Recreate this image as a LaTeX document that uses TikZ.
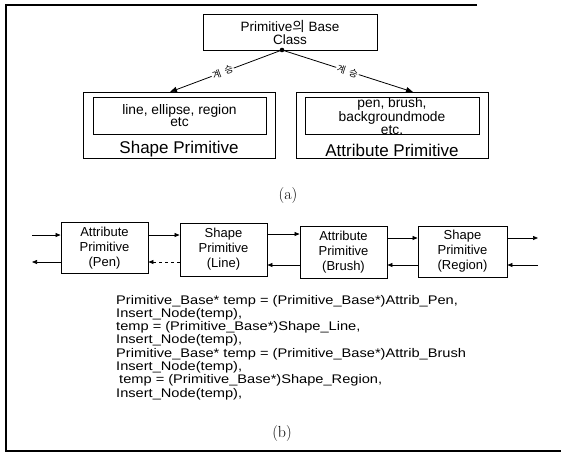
\documentclass[tikz,border=0pt]{standalone}
\usepackage{fontspec}
\usetikzlibrary{arrows.meta,calc}
\newfontfamily\arial{Liberation Sans}
\newfontfamily\codefont[FakeStretch=1.17]{Liberation Sans}
\newfontfamily\kr{Noto Sans CJK KR}
\tikzset{
  box/.style={draw, line width=0.9pt, inner sep=0pt},
  frameline/.style={line width=1.1pt},
  arr/.style={-{Triangle[length=5pt,width=4pt]}, line width=0.7pt},
  bigarr/.style={-{Triangle[length=7pt,width=5.5pt]}, line width=0.8pt},
  kor/.style={font=\kr\fontsize{9.5}{10}\selectfont, fill=white, inner sep=1pt, sloped},
  boxtext/.style={font=\arial\fontsize{13}{15}\selectfont, align=center},
  codeline/.style={font=\codefont\fontsize{12.5}{13}\selectfont, anchor=base west, inner sep=0pt},
  bnode/.style={box, boxtext, minimum width=87pt, minimum height=51pt}
}
\begin{document}
\begin{tikzpicture}[x=1pt,y=-1pt]
\useasboundingbox (0,0) rectangle (561,453);
% scanned frame
\draw[frameline] (477,5) -- (6,5) -- (6,451) -- (561,451);

% ---------- (a) ----------
\node[box, minimum width=174pt, minimum height=36pt, align=center,
      font=\arial\fontsize{13.5}{13}\selectfont] (base) at (290,32)
      {Primitive{\kr 의} Base\\Class};
\coordinate (dot) at (282,50);
\fill (dot) circle (2.3pt);

\node[box, minimum width=192pt, minimum height=66pt] (so) at (179,125) {};
\node[box, minimum width=173pt, minimum height=37pt, align=center,
      font=\arial\fontsize{13.8}{11.5}\selectfont] (si) at (179.5,115.5)
      {line, ellipse, region\\etc};
\node[font=\arial\fontsize{17}{18}\selectfont, inner sep=0pt] (sl) at (179,149) {Shape Primitive};

\node[box, minimum width=192pt, minimum height=66pt] (ao) at (392,125) {};
\node[box, minimum width=174pt, minimum height=36pt, align=center,
      font=\arial\fontsize{13.8}{11.5}\selectfont] (ai) at (392,116)
      {pen, brush,\\backgroundmode\\etc.};
\node[font=\arial\fontsize{17}{18}\selectfont, inner sep=0pt] (al) at (392,150) {Attribute Primitive};

\coordinate (stip) at (170,92);
\coordinate (atip) at (413,92);
\draw[bigarr] (dot) -- node[kor, pos=0.53] (k1) {계\hspace{4pt}승} (stip);
\draw[bigarr] (dot) -- node[kor, pos=0.5] (k2) {계\hspace{4pt}승} (atip);

\node[font=\fontsize{16}{18}\selectfont, inner sep=0pt] (capa) at (288,196) {(a)};

% ---------- (b) ----------
\node[bnode] (B1) at (104.5,248) {Attribute\\Primitive\\(Pen)};
\node[bnode, minimum height=53pt] (B2) at (223.5,249.5) {Shape\\Primitive\\(Line)};
\node[bnode, minimum height=52pt] (B3) at (343.5,252) {Attribute\\Primitive\\(Brush)};
\node[bnode, minimum width=89pt] (B4) at (462.5,251.5) {Shape\\Primitive\\(Region)};

\coordinate (inL) at (32,235);
\coordinate (outL) at (32,262);
\coordinate (outR) at (538,238);
\coordinate (inR) at (538,265);

\draw[arr] (inL) -- (B1.west |- inL);
\draw[arr] (B1.east |- 0,235) -- (B2.west |- 0,235);
\draw[arr] (B2.east |- 0,234) -- (B3.west |- 0,234);
\draw[arr] (B3.east |- 0,238) -- (B4.west |- 0,238);
\draw[arr] (B4.east |- outR) -- (outR);

\draw[arr] (inR) -- (B4.east |- inR);
\draw[arr] (B4.west |- 0,265) -- (B3.east |- 0,265);
\draw[arr] (B3.west |- 0,265) -- (B2.east |- 0,265);
\draw[arr, dashed] (B2.west |- 0,262) -- (B1.east |- 0,262);
\draw[arr] (B1.west |- outL) -- (outL);

\node[codeline] (c1) at (116,304.0) {Primitive\_Base* temp = (Primitive\_Base*)Attrib\_Pen,};
\node[codeline] (c2) at (116,317.3) {Insert\_Node(temp),};
\node[codeline] (c3) at (116,330.6) {temp = (Primitive\_Base*)Shape\_Line,};
\node[codeline] (c4) at (116,343.9) {Insert\_Node(temp),};
\node[codeline] (c5) at (116,357.2) {Primitive\_Base* temp = (Primitive\_Base*)Attrib\_Brush};
\node[codeline] (c6) at (116,370.5) {Insert\_Node(temp),};
\node[codeline] (c7) at (119,383.8) {temp = (Primitive\_Base*)Shape\_Region,};
\node[codeline] (c8) at (116,397.1) {Insert\_Node(temp),};

\node[font=\fontsize{16}{18}\selectfont, inner sep=0pt] (capb) at (282,433) {(b)};
\end{tikzpicture}
\end{document}
